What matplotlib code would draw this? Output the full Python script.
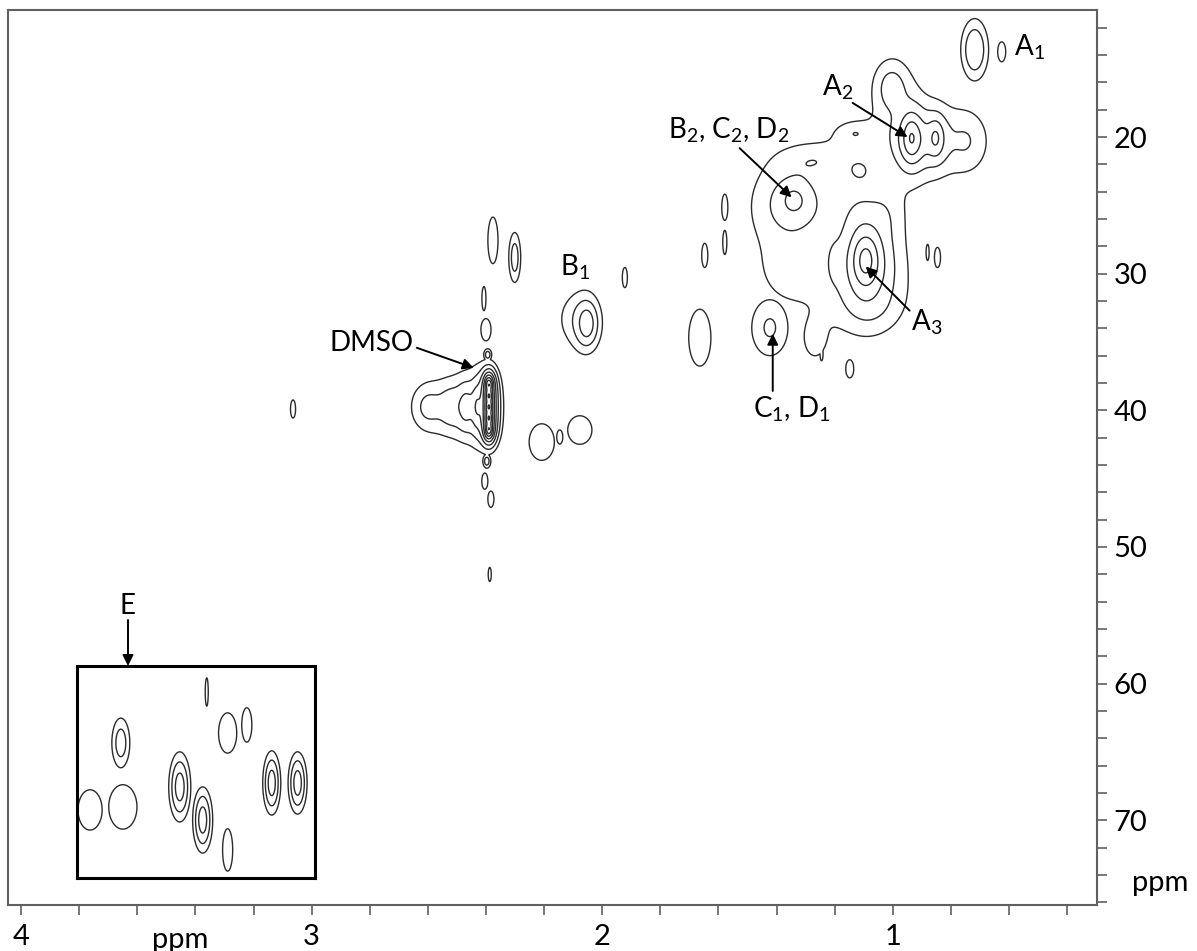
import numpy as np
import matplotlib
matplotlib.use("Agg")
import matplotlib.pyplot as plt

plt.rcParams['mathtext.fontset'] = 'custom'
plt.rcParams['mathtext.rm'] = 'Lato'
plt.rcParams['mathtext.it'] = 'Lato:italic'

# ---------------- data: HSQC cross peaks (1H ppm, 13C ppm) ----------------
# group: peaks of one group are summed; groups are combined by maximum
peak_group = [0, 0, 0, 0, 0, 0, 0, 0, 0, 0, 0, 0, 0, 0, 0, 0, 0, 0, 0,
              1, 2, 3, 4, 5, 6, 7, 8, 9, 10, 11, 12,
              13, 14, 15, 16, 17, 18, 19, 20, 21, 22, 23,
              24, 24, 25, 26, 27,
              28, 28, 28, 28, 28, 28, 28, 28, 28]
peak_h = [0.935, 0.852, 0.914, 1.004, 0.746, 1.341, 1.313, 1.093, 1.086, 1.200,
          1.389, 1.355, 1.269, 1.028, 1.079, 1.269, 1.131, 1.121, 1.114,
          0.718, 0.625, 1.069, 1.423, 1.664, 1.578, 1.578, 1.647, 0.846, 0.880, 1.148, 1.245,
          2.376, 2.301, 2.407, 2.400, 2.394, 2.397, 2.404, 2.383, 2.387, 3.064, 1.922,
          2.053, 2.094, 2.208, 2.146, 2.077,
          2.390, 2.390, 2.390, 2.390, 2.390, 2.600, 2.520, 2.469, 2.431]
peak_c = [20.07, 20.07, 20.22, 16.40, 20.29, 24.63, 24.85, 29.03, 29.62, 29.18,
          24.99, 29.77, 21.69, 25.73, 32.33, 34.90, 19.71, 25.73, 22.42,
          13.61, 13.76, 20.95, 33.95, 34.68, 25.14, 27.71, 28.66, 28.81, 28.44, 36.96, 35.86,
          27.56, 28.81, 31.82, 34.10, 35.93, 43.72, 45.18, 46.50, 52.01, 39.90, 30.28,
          33.66, 33.29, 42.32, 41.95, 41.44,
          38.13, 38.94, 39.75, 40.56, 41.37, 39.75, 39.75, 39.75, 39.75]
peak_wh = [0.0344, 0.031, 0.103, 0.0757, 0.103, 0.0413, 0.130, 0.0447, 0.1376, 0.0275,
           0.155, 0.1376, 0.155, 0.086, 0.155, 0.062, 0.086, 0.0757, 0.086,
           0.048, 0.029, 0.024, 0.0894, 0.074, 0.022, 0.0147, 0.022, 0.022, 0.011, 0.029, 0.011,
           0.0366, 0.024, 0.0147, 0.0366, 0.0162, 0.0162, 0.022, 0.022, 0.011, 0.0183, 0.0183,
           0.0378, 0.103, 0.0915, 0.022, 0.0878,
           0.01135, 0.01135, 0.01135, 0.01135, 0.01135, 0.075, 0.0550, 0.0344, 0.0206]
peak_wc = [1.615, 1.468, 2.056, 2.496, 3.08, 1.028, 2.90, 1.909, 3.304, 1.62,
           4.04, 3.30, 1.615, 2.94, 2.94, 2.20, 1.10, 2.20, 1.84,
           2.28, 1.54, 1.615, 2.94, 4.04, 2.03, 1.87, 1.87, 1.56, 1.25, 1.40, 1.09,
           3.59, 2.13, 1.87, 1.72, 0.514, 0.60, 1.25, 1.25, 1.09, 1.40, 1.56,
           1.615, 2.94, 2.82, 1.09, 2.20,
           0.514, 0.514, 0.514, 0.514, 0.514, 2.20, 2.10, 1.90, 1.70]
peak_amp = [14, 7, 3, 2.6, 1.8, 3.5, 1.3, 20, 2.0, 1.2,
            1.3, 1.3, 1.25, 1.1, 1.3, 1.2, 1.4, 0.7, 1.2,
            4, 1.5, 1.5, 2.2, 1.6, 1.5, 1.5, 1.5, 1.5, 1.5, 1.5, 1.5,
            1.5, 3, 1.5, 1.5, 3, 3, 1.5, 1.5, 1.5, 1.5, 1.5,
            6, 1.2, 1.5, 1.5, 1.5,
            120, 120, 120, 120, 120, 2.3, 2.5, 4.5, 6]

# inset (region E)
ins_group = [0, 1, 2, 3, 4, 5, 6, 7, 8, 9, 10]
ins_h = [3.849, 3.955, 3.842, 3.646, 3.567, 3.553, 3.481, 3.415, 3.481, 3.329, 3.240]
ins_c = [65.65, 70.57, 70.35, 68.88, 71.31, 61.91, 64.92, 64.33, 73.51, 68.59, 68.59]
ins_wh = [0.0361, 0.0877, 0.1025, 0.0316, 0.0287, 0.011, 0.066, 0.0366, 0.0366, 0.0258, 0.0272]
ins_wc = [2.13, 3.12, 3.44, 2.14, 2.02, 2.19, 3.12, 2.66, 3.28, 1.96, 1.90]
ins_amp = [3, 1.5, 1.5, 6, 6, 1.5, 1.5, 1.5, 1.5, 6, 6]

contour_levels = [1, 2, 4, 8, 16, 32, 64, 128, 256]

x_ticks = [round(0.4 + 0.2 * i, 1) for i in range(19)]
x_ticklabels = {1.0: '1', 2.0: '2', 3.0: '3', 4.0: '4'}
y_ticks = list(range(12, 77, 2))
y_ticklabels = {20: '20', 30: '30', 40: '40', 50: '50', 60: '60', 70: '70'}

labels = [
    # text, text position (1H, 13C), arrow start, arrow end
    ("A$_1$", (0.529, 13.39), None, None),
    ("A$_2$", (1.190, 16.33), (1.138, 17.50), (0.949, 20.00)),
    ("B$_2$, C$_2$, D$_2$", (1.564, 19.49), (1.527, 20.81), (1.348, 24.41)),
    ("A$_3$", (0.883, 33.58), (0.942, 32.70), (1.093, 29.47)),
    ("C$_1$, D$_1$", (1.348, 39.90), (1.413, 38.58), (1.413, 34.39)),
    ("B$_1$", (2.094, 29.54), None, None),
    ("DMSO", (2.793, 35.05), (2.638, 35.42), (2.442, 36.89)),
]


def spectrum(H, C, hs, cs, wh, wc, amp, grp):
    total = np.zeros_like(H)
    grp = np.asarray(grp)
    for g in np.unique(grp):
        acc = np.zeros_like(H)
        for i in np.where(grp == g)[0]:
            r2 = ((H - hs[i]) / wh[i]) ** 2 + ((C - cs[i]) / wc[i]) ** 2
            acc += amp[i] / (1.0 + r2) ** 2
        total = np.maximum(total, acc)
    return total


W, Hpx = 1197, 951
fig = plt.figure(figsize=(W / 100, Hpx / 100), dpi=100)
ax = fig.add_axes([8 / W, 1 - 905 / Hpx, (1097 - 8) / W, (905 - 10) / Hpx])

xlim = (4.045, 0.297)
ylim = (76.2, 10.7)
hg = np.linspace(0.297, 4.045, 2300)
cg = np.linspace(10.7, 76.2, 1400)
HH, CC = np.meshgrid(hg, cg)
Z = spectrum(HH, CC, peak_h, peak_c, peak_wh, peak_wc, peak_amp, peak_group)
ax.contour(HH, CC, Z, levels=contour_levels, colors='#2b2b2b', linewidths=1.0)
ax.set_xlim(*xlim)
ax.set_ylim(*ylim)

for s in ax.spines.values():
    s.set_color('#606060')
    s.set_linewidth(1.5)

ax.set_xticks(x_ticks)
ax.set_xticklabels([x_ticklabels.get(t, '') for t in x_ticks], fontfamily='Lato', fontsize=21)
ax.yaxis.tick_right()
ax.set_yticks(y_ticks)
ax.set_yticklabels([y_ticklabels.get(t, '') for t in y_ticks], fontfamily='Lato', fontsize=21)
ax.tick_params(axis='both', direction='out', length=7, width=1.2, color='#606060')
ax.tick_params(axis='x', pad=7)
ax.tick_params(axis='y', pad=5)

for text, tpos, a0, a1 in labels:
    ax.text(tpos[0], tpos[1], text, fontfamily='Lato', fontsize=20, ha='center', va='center')
    if a0 is not None:
        ax.annotate('', xy=a1, xytext=a0,
                    arrowprops=dict(arrowstyle='-|>', color='black', lw=1.4,
                                    mutation_scale=16, shrinkA=0, shrinkB=0))

fig.text(180 / W, 1 - 940 / Hpx, 'ppm', fontfamily='Lato', fontsize=21, ha='center', va='center')
fig.text(1160 / W, 1 - 883 / Hpx, 'ppm', fontfamily='Lato', fontsize=21, ha='center', va='center')

# inset E
axi = fig.add_axes([77 / W, 1 - 878 / Hpx, 238 / W, 212 / Hpx])
ih = np.linspace(3.18, 4.0, 700)
ic = np.linspace(60.0, 75.57, 650)
IH, IC = np.meshgrid(ih, ic)
ZI = spectrum(IH, IC, ins_h, ins_c, ins_wh, ins_wc, ins_amp, ins_group)
axi.contour(IH, IC, ZI, levels=contour_levels, colors='#2b2b2b', linewidths=1.0)
axi.set_xlim(4.0, 3.18)
axi.set_ylim(75.57, 60.0)
axi.set_xticks([])
axi.set_yticks([])
for s in axi.spines.values():
    s.set_color('black')
    s.set_linewidth(2.2)

fig.text(128 / W, 1 - 606 / Hpx, 'E', fontfamily='Lato', fontsize=20, ha='center', va='center')
ax.annotate('', xy=(128 / W, 1 - 666 / Hpx), xytext=(128 / W, 1 - 620 / Hpx),
            xycoords='figure fraction', textcoords='figure fraction',
            arrowprops=dict(arrowstyle='-|>', color='black', lw=1.4,
                            mutation_scale=16, shrinkA=0, shrinkB=0))

fig.savefig('out.png', dpi=100)
